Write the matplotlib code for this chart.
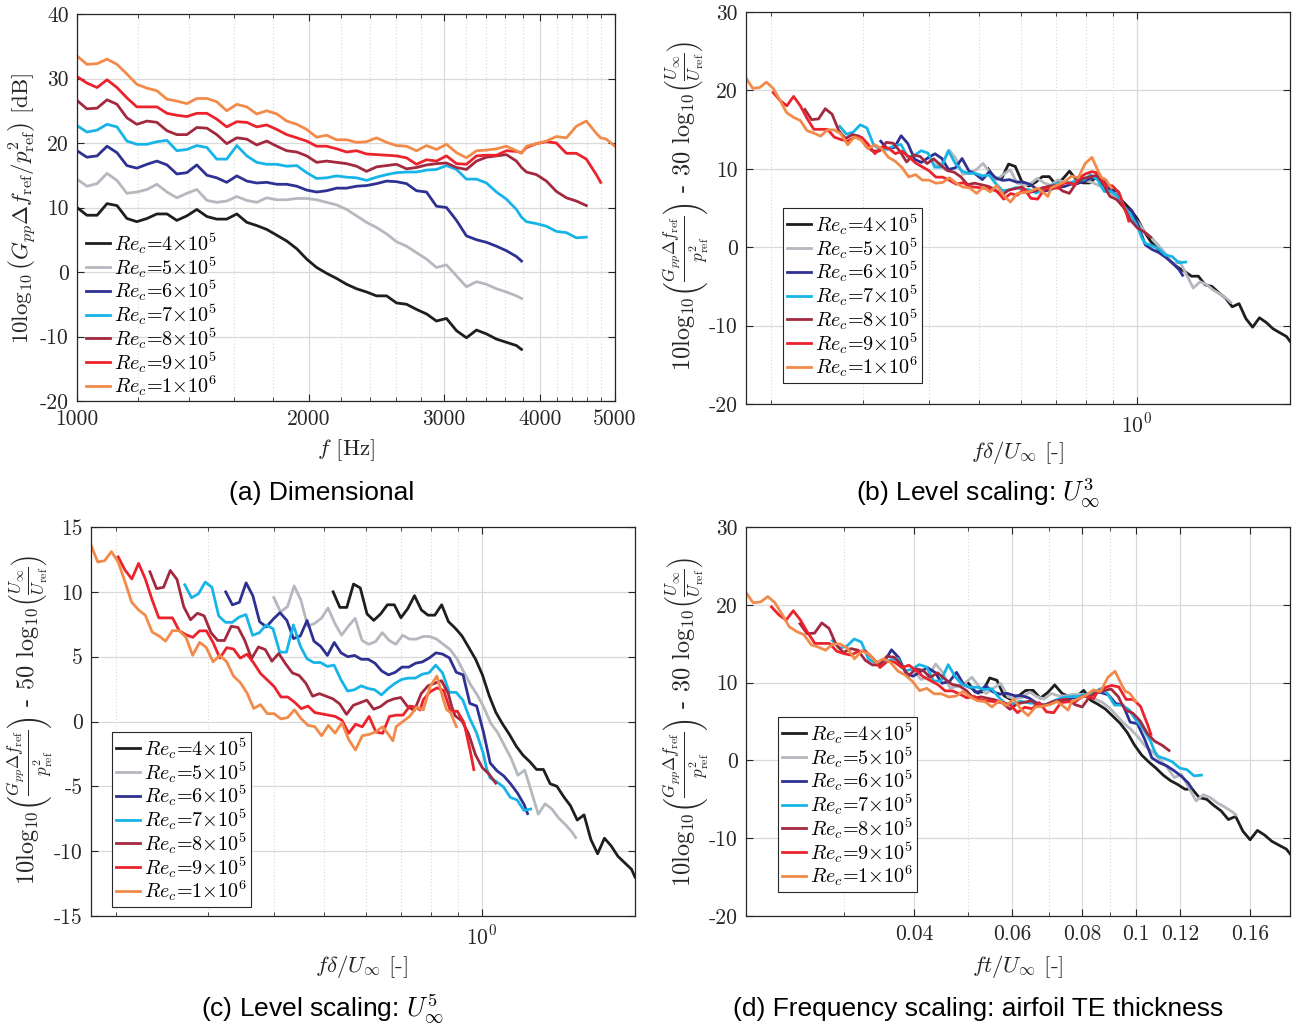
import numpy as np
import matplotlib.pyplot as plt
from matplotlib.ticker import FixedLocator, FixedFormatter, NullFormatter

plt.rcParams["font.family"] = "cmr10"
plt.rcParams["mathtext.fontset"] = "cm"
plt.rcParams["axes.unicode_minus"] = False
plt.rcParams["axes.formatter.use_mathtext"] = True

# frequency grid of the read-off spectra [Hz]
freq_hz = [1000, 1030, 1062, 1094, 1127, 1161, 1196, 1233, 1270, 1309,
           1348, 1389, 1431, 1475, 1519, 1565, 1613, 1662, 1712, 1764,
           1818, 1873, 1930, 1988, 2048, 2110, 2174, 2240, 2308, 2378,
           2450, 2525, 2601, 2680, 2761, 2845, 2931, 3020, 3112, 3206,
           3304, 3404, 3507, 3613, 3723, 3780, 3836, 3952, 4072, 4195,
           4323, 4454, 4589, 4728, 4790, 4871, 5000]

# 10log10(Gpp df_ref / p_ref^2) [dB], one list per Reynolds number
spl_re4 = [10.0, 8.8, 8.8, 10.6, 10.3, 8.3, 7.8, 8.3, 9.0, 9.0,
           8.0, 8.7, 9.7, 8.6, 8.2, 8.2, 9.0, 7.7, 7.2, 6.6,
           5.7, 4.8, 3.6, 2.0, 0.7, -0.2, -1.0, -1.9, -2.6, -3.1,
           -3.7, -3.7, -4.8, -5.0, -5.8, -6.5, -7.6, -7.2, -9.1, -10.2,
           -9.0, -9.6, -10.4, -10.9, -11.4, -12.0]
spl_re5 = [14.4, 13.3, 13.7, 15.3, 14.2, 12.2, 12.4, 12.8, 13.6, 12.4,
           11.5, 12.2, 12.8, 11.1, 10.8, 11.0, 11.7, 11.1, 10.8, 11.5,
           11.2, 11.2, 11.4, 11.4, 11.2, 10.8, 10.4, 9.7, 8.7, 7.7,
           6.9, 5.9, 4.7, 4.0, 3.0, 2.0, 0.7, 1.1, -0.6, -2.3,
           -1.5, -1.9, -2.6, -3.1, -3.7, -4.1]
spl_re6 = [18.8, 17.8, 18.0, 19.5, 18.5, 16.5, 16.1, 16.7, 17.2, 16.6,
           15.2, 15.4, 16.6, 15.0, 14.6, 13.9, 14.9, 14.1, 13.8, 13.9,
           13.6, 13.6, 13.3, 12.7, 12.4, 12.6, 13.0, 13.0, 13.3, 13.4,
           13.7, 14.1, 14.0, 13.7, 12.6, 12.4, 10.2, 10.0, 8.0, 5.6,
           5.0, 4.6, 4.0, 3.3, 2.4, 1.7]
spl_re7 = [22.7, 21.7, 22.0, 22.9, 22.5, 20.3, 19.8, 19.8, 20.2, 20.4,
           18.8, 19.0, 19.6, 19.3, 17.5, 17.5, 19.6, 18.0, 17.0, 16.7,
           16.7, 16.4, 16.5, 15.4, 14.5, 14.6, 14.9, 14.7, 14.6, 14.2,
           14.7, 15.1, 15.4, 15.5, 15.5, 15.8, 15.9, 16.5, 15.9, 14.4,
           14.4, 13.8, 12.4, 11.3, 9.7, 8.5, 7.8, 7.5, 7.1, 6.3,
           6.1, 5.3, 5.4]
spl_re8 = [26.6, 25.3, 25.4, 26.7, 26.0, 23.9, 22.9, 23.4, 23.2, 21.9,
           21.3, 21.3, 22.4, 22.3, 21.3, 19.9, 20.8, 20.6, 19.7, 20.3,
           19.5, 18.8, 18.6, 18.0, 17.0, 17.2, 17.0, 16.8, 16.4, 15.6,
           16.3, 16.5, 16.7, 16.0, 16.2, 16.6, 16.8, 16.9, 16.2, 15.9,
           17.2, 17.8, 18.0, 18.2, 17.2, 16.2, 15.5, 15.1, 14.1, 12.5,
           11.5, 11.0, 10.3]
spl_re9 = [30.3, 29.3, 28.6, 29.8, 28.6, 27.0, 25.6, 25.6, 25.6, 24.6,
           24.3, 24.1, 24.6, 24.6, 23.7, 22.5, 23.3, 23.2, 22.5, 22.8,
           22.1, 21.3, 20.8, 20.3, 19.5, 19.5, 19.1, 18.6, 18.8, 18.3,
           18.2, 18.1, 18.0, 17.7, 16.7, 17.4, 17.2, 18.0, 16.8, 16.7,
           18.0, 18.1, 18.1, 18.8, 18.7, 18.5, 19.3, 19.9, 20.2, 20.0,
           18.4, 18.4, 17.5, 15.1, 13.9]
spl_re10 = [33.5, 32.2, 32.3, 33.0, 32.2, 30.7, 29.1, 28.5, 28.1, 26.8,
            26.5, 26.1, 26.9, 26.9, 26.4, 25.0, 26.0, 25.6, 24.5, 25.0,
            24.5, 23.4, 22.9, 22.1, 20.9, 21.2, 20.5, 20.5, 20.1, 20.2,
            20.8, 20.1, 19.6, 19.5, 18.8, 19.6, 19.0, 19.8, 18.5, 17.7,
            18.8, 18.9, 19.1, 19.5, 18.8, 18.4, 19.5, 19.9, 20.3, 21.0,
            20.8, 22.6, 23.4, 21.5, 20.8, 20.6, 19.5]

labels = [r"$Re_c$=4$\times10^5$", r"$Re_c$=5$\times10^5$", r"$Re_c$=6$\times10^5$",
          r"$Re_c$=7$\times10^5$", r"$Re_c$=8$\times10^5$", r"$Re_c$=9$\times10^5$",
          r"$Re_c$=1$\times10^6$"]
u_inf = [20, 25, 30, 35, 40, 45, 50]            # free-stream velocity [m/s]
delta_mm = [10.39, 10.0, 9.71, 9.46, 9.27, 9.07, 8.94]   # BL thickness [mm]
te_thickness_mm = 1.0
u_ref = 20.0
colors = ["#1e1e1e", "#b5b8bf", "#2e3192", "#17b4e8", "#a3293f", "#ec232c", "#f28a4a"]

spectra = [spl_re4, spl_re5, spl_re6, spl_re7, spl_re8, spl_re9, spl_re10]

W, H = 1307, 1030
fig = plt.figure(figsize=(W / 100, H / 100), dpi=100)


def rect(l, t, r, b):
    return [l / W, 1 - b / H, (r - l) / W, (b - t) / H]


ax_a = fig.add_axes(rect(77, 14, 615, 401))
ax_b = fig.add_axes(rect(746, 12, 1290, 404))
ax_c = fig.add_axes(rect(91, 527, 635, 916))
ax_d = fig.add_axes(rect(746, 527, 1290, 916))

LW = 2.0
for spl, u, dl, col, lab in zip(spectra, u_inf, delta_mm, colors, labels):
    f = np.array(freq_hz[:len(spl)], dtype=float)
    L = np.array(spl)
    ax_a.plot(f, L, color=col, lw=LW, label=lab)
    ax_b.plot(f * dl * 1e-3 / u, L - 30 * np.log10(u / u_ref), color=col, lw=LW, label=lab)
    ax_c.plot(f * dl * 1e-3 / u, L - 50 * np.log10(u / u_ref), color=col, lw=LW, label=lab)
    ax_d.plot(f * te_thickness_mm * 1e-3 / u, L - 30 * np.log10(u / u_ref), color=col, lw=LW, label=lab)

tick_col = "#262626"


def style(ax, yticks):
    ax.set_xscale("log")
    ax.set_yticks(yticks)
    ax.set_yticklabels([str(v) for v in yticks])
    ax.tick_params(which="both", direction="in", top=True, right=True,
                   labelsize=15.5, colors=tick_col, labelcolor=tick_col, pad=6)
    ax.tick_params(which="major", length=5, width=0.8)
    ax.tick_params(which="minor", length=3, width=0.6)
    ax.grid(which="major", color="#d9d9d9", lw=0.9, ls="-")
    ax.grid(which="minor", color="#d9d9d9", lw=0.8, ls=(0, (1, 2)))
    ax.set_axisbelow(True)
    for s in ax.spines.values():
        s.set_color(tick_col)
        s.set_linewidth(0.9)


# (a)
style(ax_a, [-20, -10, 0, 10, 20, 30, 40])
ax_a.set_xlim(1000, 5000)
ax_a.set_ylim(-20, 40)
ax_a.xaxis.set_major_locator(FixedLocator([1000, 2000, 3000, 4000, 5000]))
ax_a.xaxis.set_major_formatter(FixedFormatter(["1000", "2000", "3000", "4000", "5000"]))
ax_a.xaxis.set_minor_locator(FixedLocator([v for v in range(1200, 5000, 200) if v % 1000]))
ax_a.xaxis.set_minor_formatter(NullFormatter())

# (b), (c) share the same f*delta/U axis
xb_all = [f * dl * 1e-3 / u for spl, u, dl in zip(spectra, u_inf, delta_mm)
          for f in freq_hz[:len(spl)]]
for ax, yt, yl in [(ax_b, [-20, -10, 0, 10, 20, 30], (-20, 30)),
                   (ax_c, [-15, -10, -5, 0, 5, 10, 15], (-15, 15))]:
    style(ax, yt)
    ax.set_xlim(min(xb_all), max(xb_all))
    ax.set_ylim(*yl)
    ax.xaxis.set_major_locator(FixedLocator([1.0]))
    ax.xaxis.set_major_formatter(FixedFormatter([r"$10^0$"]))
    ax.xaxis.set_minor_locator(FixedLocator([0.2, 0.3, 0.4, 0.5, 0.6, 0.7, 0.8, 0.9]))
    ax.xaxis.set_minor_formatter(NullFormatter())

# (d)
xd_all = [f * te_thickness_mm * 1e-3 / u for spl, u in zip(spectra, u_inf)
          for f in freq_hz[:len(spl)]]
style(ax_d, [-20, -10, 0, 10, 20, 30])
ax_d.set_xlim(min(xd_all), max(xd_all))
ax_d.set_ylim(-20, 30)
d_major = [0.04, 0.06, 0.08, 0.1, 0.12, 0.16]
ax_d.xaxis.set_major_locator(FixedLocator(d_major))
ax_d.xaxis.set_major_formatter(FixedFormatter(["0.04", "0.06", "0.08", "0.1", "0.12", "0.16"]))
ax_d.xaxis.set_minor_locator(FixedLocator([0.03, 0.05, 0.07, 0.09]))
ax_d.xaxis.set_minor_formatter(NullFormatter())

# legends
leg_kw = dict(fontsize=14.5, handlelength=1.2, handletextpad=0.2, labelspacing=-0.06,
              borderaxespad=0, loc="upper left", bbox_transform=fig.transFigure)
ax_a.legend(bbox_to_anchor=(84 / W, 1 - 229 / H), frameon=False, borderpad=0.1, **leg_kw)
for ax, (x0, y0) in [(ax_b, (783, 208)), (ax_c, (112, 732)), (ax_d, (778, 717))]:
    lg = ax.legend(bbox_to_anchor=(x0 / W, 1 - y0 / H), frameon=True, fancybox=False,
                   framealpha=1, borderpad=0.2, **leg_kw)
    lg.get_frame().set_edgecolor(tick_col)
    lg.get_frame().set_linewidth(0.8)

# axis labels
lab_kw = dict(fontsize=16.5, color=tick_col, ha="center", va="center")
fig.text(346 / W, 1 - 450 / H, r"$f$ [Hz]", **lab_kw)
fig.text(1018 / W, 1 - 452 / H, r"$f\delta/U_\infty$ [-]", **lab_kw)
fig.text(362 / W, 1 - 966 / H, r"$f\delta/U_\infty$ [-]", **lab_kw)
fig.text(1018 / W, 1 - 966 / H, r"$ft/U_\infty$ [-]", **lab_kw)

ylab_a = r"$10\mathrm{log}_{10}\,\left(G_{pp}\Delta f_{\mathrm{ref}}/p^2_{\mathrm{ref}}\right)$ [dB]"
ylab_30 = (r"$10\mathrm{log}_{10}\left(\frac{G_{pp}\Delta f_{\mathrm{ref}}}{p^2_{\mathrm{ref}}}\right)$"
           r" - 30 $\mathrm{log}_{10}\left(\frac{U_\infty}{U_{\mathrm{ref}}}\right)$")
ylab_50 = (r"$10\mathrm{log}_{10}\left(\frac{G_{pp}\Delta f_{\mathrm{ref}}}{p^2_{\mathrm{ref}}}\right)$"
           r" - 50 $\mathrm{log}_{10}\left(\frac{U_\infty}{U_{\mathrm{ref}}}\right)$")
fig.text(22 / W, 1 - 208 / H, ylab_a, rotation=90, **lab_kw)
fig.text(685 / W, 1 - 206 / H, ylab_30, rotation=90, fontsize=17.5,
         color=tick_col, ha="center", va="center")
fig.text(30 / W, 1 - 720 / H, ylab_50, rotation=90, fontsize=17.5,
         color=tick_col, ha="center", va="center")
fig.text(685 / W, 1 - 722 / H, ylab_30, rotation=90, fontsize=17.5,
         color=tick_col, ha="center", va="center")

# captions
cap_kw = dict(fontsize=19, family="Liberation Sans", color="black", ha="center", va="center")
fig.text(322 / W, 1 - 493 / H, "(a) Dimensional", **cap_kw)
fig.text(978 / W, 1 - 493 / H, r"(b) Level scaling: $U_\infty^3$", **cap_kw)
fig.text(322 / W, 1 - 1009 / H, r"(c) Level scaling: $U_\infty^5$", **cap_kw)
fig.text(978 / W, 1 - 1009 / H, "(d) Frequency scaling: airfoil TE thickness", **cap_kw)

fig.savefig("out.png", dpi=100)
